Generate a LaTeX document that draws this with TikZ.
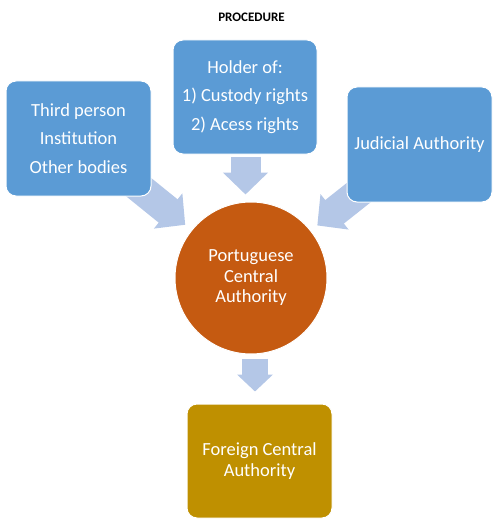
\documentclass[tikz,border=0pt]{standalone}
\usepackage{fontspec}
\setmainfont{Carlito}
\usetikzlibrary{arrows.meta,backgrounds}

\definecolor{boxblue}{HTML}{5B9BD5}
\definecolor{ptorange}{HTML}{C55A11}
\definecolor{forgold}{HTML}{BF9000}
\definecolor{arrowblue}{HTML}{B4C7E7}

\begin{document}
\begin{tikzpicture}[x=1pt,y=-1pt,
  every node/.style={inner sep=0pt, text=white},
  bluebox/.style={draw=white, line width=1pt, fill=boxblue, rounded corners=10pt,
    minimum width=145pt, minimum height=115pt, align=center,
    font=\fontsize{18.5}{28.5}\selectfont},
  goldbox/.style={bluebox, fill=forgold, font=\fontsize{18.5}{21}\selectfont},
  authority/.style={circle, draw=white, line width=1pt, fill=ptorange,
    minimum size=152pt, align=center, font=\fontsize{18.5}{20.5}\selectfont},
  bigarrow/.style={draw=arrowblue, line width=30pt, -{Triangle[length=22pt,width=44pt]}},
  smallarrow/.style={draw=arrowblue, line width=26pt, -{Triangle[length=17pt,width=35pt]}}]
\useasboundingbox (0,0) rectangle (497,524);
% title
\node[text=black, font=\fontsize{13}{15}\bfseries] (title) at (251.5,17) {PROCEDURE};
% senders
\node[bluebox] (third) at (78.5,138.5) {Third person\\Institution\\Other bodies};
\node[bluebox, minimum width=144pt, minimum height=114pt] (holder) at (245,97)
  {Holder of:\\1) Custody rights\\2) Acess rights};
\node[bluebox] (judicial) at (419.5,144.5) {Judicial Authority};
% central authorities
\node[authority] (pca) at (251,278) {Portuguese\\Central\\Authority};
\node[goldbox, minimum height=114pt] (foreign) at (259.5,461) {Foreign Central\\Authority};
% arrows
\begin{pgfonlayer}{background}
\draw[bigarrow, shorten <=60pt, shorten >=84.6pt] (third.center) -- (pca.center);
\draw[bigarrow, shorten <=60pt, shorten >=84.6pt] (judicial.center) -- (pca.center);
\end{pgfonlayer}
\draw[bigarrow, shorten <=2pt, shorten >=7pt] ([xshift=0.5pt]holder.south) -- ([xshift=0.5pt]holder.south |- pca.north);
\draw[smallarrow, shorten <=4pt, shorten >=12pt] ([xshift=4pt]pca.south) -- ([xshift=4pt]pca.south |- foreign.north);
\end{tikzpicture}
\end{document}
